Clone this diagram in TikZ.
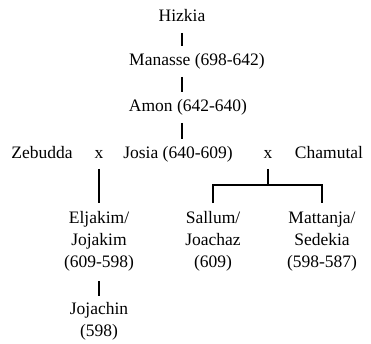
\documentclass[tikz,border=0pt]{standalone}
\usepackage{fontspec}
\setmainfont{Liberation Serif}

\begin{document}
\begin{tikzpicture}[x=1pt,y=-1pt,line width=1.5pt,
  king/.style={anchor=base,inner sep=0pt,text height=12pt,text depth=4pt,
    font=\fontsize{17.5}{22}\selectfont},
  child/.style={anchor=north,inner sep=0pt,align=center,
    font=\fontsize{17.5}{22}\selectfont},
  link/.style={shorten <=7pt,shorten >=6pt}]
 \useasboundingbox (0,0) rectangle (371,343);

 % line of the kings
 \node[king] (hizkia)   at (182,21)  {Hizkia};
 \node[king] (manasse)  at (197,65)  {Manasse (698-642)};
 \node[king] (amon)     at (188,111) {Amon (642-640)};
 \node[king] (josia)    at (178,158) {Josia (640-609)};

 % the two wives
 \node[king] (zebudda)  at (42,158)  {Zebudda};
 \node[king] (x1)       at (99,158)  {x};
 \node[king] (x2)       at (268,158) {x};
 \node[king] (chamutal) at (329,158) {Chamutal};

 % the sons
 \node[child] (eljakim)  at (99,211)  {Eljakim/\\Jojakim\\(609-598)};
 \node[child] (sallum)   at (213,211) {Sallum/\\Joachaz\\(609)};
 \node[child] (mattanja) at (322,211) {Mattanja/\\Sedekia\\(598-587)};
 \node[child] (jojachin) at (99,302)  {Jojachin\\(598)};

 \coordinate (fork) at (268,185);

 \draw[link] (hizkia.south) -- (hizkia.south |- manasse.north);
 \draw[link] (hizkia.south |- manasse.south) -- (hizkia.south |- amon.north);
 \draw[link] (hizkia.south |- amon.south) -- (hizkia.south |- josia.north);
 \draw[shorten <=6pt,shorten >=8pt] (x1) -- (eljakim);
 \draw[shorten <=6pt] (x2) -- (fork);
 \draw[shorten <=8pt,shorten >=8pt] (sallum.north) |- (fork) -| (mattanja.north);
 \draw[shorten <=9pt,shorten >=6pt] (eljakim) -- (jojachin);
\end{tikzpicture}
\end{document}
